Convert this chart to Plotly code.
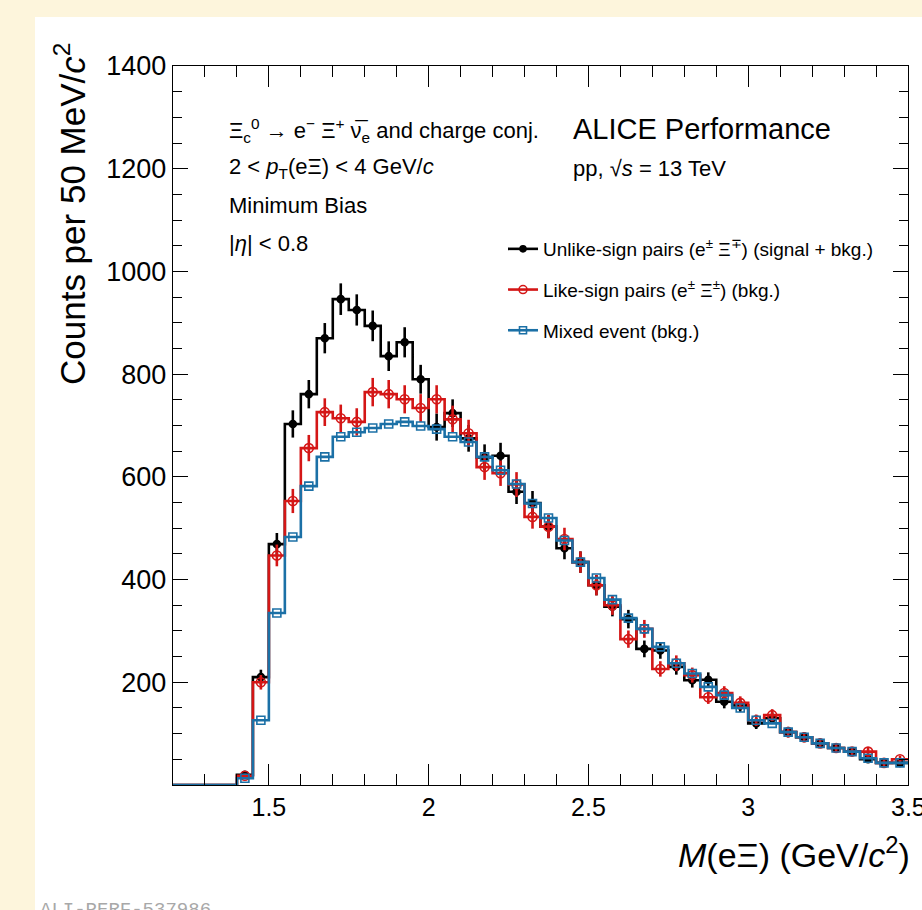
import numpy as np
import plotly.graph_objects as go

# ---------------- data ----------------
bin_edges = np.round(np.arange(1.20, 3.5001, 0.05), 2)          # 46 bins of 50 MeV/c^2
bin_centers = np.round((bin_edges[:-1] + bin_edges[1:]) / 2, 3)

unlike_sign = [0, 0, 0, 0,
               20, 210, 469, 703, 761, 870, 946, 925, 894, 835,
               862, 790, 697, 724, 675, 638, 641, 571, 549, 503,
               461, 434, 389, 347, 323, 265, 262, 230, 204, 205,
               162, 155, 120, 130, 103, 93, 81, 72, 65, 50, 43, 43]

like_sign = [0, 0, 0, 0,
             18, 200, 447, 553, 656, 726, 714, 707, 765, 761,
             751, 734, 751, 712, 685, 619, 607, 585, 522, 503,
             479, 434, 389, 350, 284, 304, 226, 237, 214, 171,
             179, 160, 126, 136, 103, 93, 81, 72, 65, 65, 43, 50]

mixed_event = [0, 0, 0, 0,
               13, 126, 335, 483, 582, 639, 678, 687, 695, 703,
               707, 699, 693, 678, 668, 639, 613, 586, 548, 520,
               476, 434, 403, 361, 325, 304, 269, 237, 217, 191,
               175, 150, 126, 120, 103, 93, 81, 72, 65, 52, 43, 43]

x_tick_vals = [1.5, 2.0, 2.5, 3.0, 3.5]
x_tick_text = ["1.5", "2", "2.5", "3", "3.5"]
y_tick_vals = [200, 400, 600, 800, 1000, 1200, 1400]

series = [
    ("Unlike-sign pairs (e<sup>±</sup> Ξ<sup>∓</sup>) (signal + bkg.)", unlike_sign,
     "#000000", "circle", 7, True),
    ("Like-sign pairs (e<sup>±</sup> Ξ<sup>±</sup>) (bkg.)", like_sign,
     "#d41616", "circle-open", 9, True),
    ("Mixed event (bkg.)", mixed_event,
     "#1b70a6", "square-open", 8, False),
]

# ---------------- figure ----------------
W, H = 922, 910
ML, MR, MT, MB = 173, 14, 66, 125
PW, PH = W - ML - MR, H - MT - MB


def px_x(p):
    return (p - ML) / PW


def px_y(p):
    return (H - MB - p) / PH


fig = go.Figure()

for i, (name, vals, col, sym, msize, err) in enumerate(series):
    vals = np.asarray(vals, dtype=float)
    step_y = np.append(vals, vals[-1])
    fig.add_trace(go.Scatter(
        x=bin_edges, y=step_y, mode="lines", line_shape="hv",
        line=dict(color=col, width=2.6), showlegend=False, hoverinfo="skip",
    ))
    mask = vals > 0
    fig.add_trace(go.Scatter(
        x=bin_centers[mask], y=vals[mask], mode="markers",
        marker=dict(symbol=sym, size=msize, color=col,
                    line=dict(color=col, width=1.6)),
        error_y=dict(type="data", array=np.sqrt(vals[mask]) if err else np.zeros(mask.sum()),
                     visible=err, color=col, thickness=2.6, width=0),
        showlegend=False,
    ))
    # legend entry
    fig.add_trace(go.Scatter(
        x=[None], y=[None], mode="lines+markers", name=name,
        legendgroup=f"g{i}",
        line=dict(color=col, width=2.6),
        marker=dict(symbol=sym, size=msize - 1, color=col, line=dict(color=col, width=1.6)),
    ))

font_main = "Liberation Sans, Arial, Helvetica, sans-serif"

annotations = []
left_txt = [
    (130, "Ξ<sub>c</sub><sup>0</sup> → e<sup>−</sup> Ξ<sup>+</sup> ν̅<sub>e</sub> and charge conj."),
    (168, "2 < <i>p</i><sub>T</sub>(eΞ) < 4 GeV/<i>c</i>"),
    (206, "Minimum Bias"),
    (244, "|<i>η</i>| < 0.8"),
]
for yy, t in left_txt:
    annotations.append(dict(x=px_x(227), y=px_y(yy), xref="paper", yref="paper",
                            xanchor="left", yanchor="middle", text=t, showarrow=False,
                            font=dict(size=22, color="black", family=font_main)))
annotations.append(dict(x=px_x(571), y=px_y(129), xref="paper", yref="paper",
                        xanchor="left", yanchor="middle", text="ALICE Performance",
                        showarrow=False, font=dict(size=29, color="black", family=font_main)))
annotations.append(dict(x=px_x(571), y=px_y(168), xref="paper", yref="paper",
                        xanchor="left", yanchor="middle", text="pp, √<i>s</i> = 13 TeV",
                        showarrow=False, font=dict(size=22, color="black", family=font_main)))
# last x tick label (half cut by the page edge, as in the reference)
annotations.append(dict(x=x_tick_vals[-1], y=px_y(807), xref="x", yref="paper",
                        xanchor="center", yanchor="middle", text=x_tick_text[-1],
                        showarrow=False, font=dict(size=25, color="black", family=font_main)))
# axis titles
annotations.append(dict(x=px_x(912), y=px_y(852), xref="paper", yref="paper",
                        xanchor="right", yanchor="middle",
                        text="<i>M</i>(eΞ) (GeV/<i>c</i><sup>2</sup>)",
                        showarrow=False, font=dict(size=34, color="black", family=font_main)))
annotations.append(dict(x=px_x(70), y=px_y(214), xref="paper", yref="paper",
                        xanchor="center", yanchor="middle", textangle=-90,
                        text="Counts per 50 MeV/<i>c</i><sup>2</sup>",
                        showarrow=False, font=dict(size=35, color="black", family=font_main)))
annotations.append(dict(x=px_x(38), y=px_y(897), xref="paper", yref="paper",
                        xanchor="left", yanchor="top", text="ALI-PERF-537986",
                        showarrow=False,
                        font=dict(size=19, color="#a8a8a8",
                                  family="Liberation Mono, DejaVu Sans Mono, monospace")))

shapes = [dict(type="rect", xref="paper", yref="paper", layer="below",
               x0=px_x(35), x1=px_x(930), y0=px_y(920), y1=px_y(17),
               fillcolor="white", line=dict(width=0))]

axis_common = dict(showline=True, linecolor="black", linewidth=1.4, mirror="allticks",
                   ticks="inside", tickcolor="black", tickwidth=1.4, showgrid=False,
                   zeroline=False)

fig.update_layout(
    width=W, height=H,
    margin=dict(l=ML, r=MR, t=MT, b=MB, pad=0),
    paper_bgcolor="#fdf5dc", plot_bgcolor="white",
    showlegend=True,
    legend=dict(x=px_x(503), y=px_y(230), xanchor="left", yanchor="top",
                bgcolor="rgba(0,0,0,0)", tracegroupgap=13,
                font=dict(size=19, color="black", family=font_main), itemwidth=30),
    xaxis=dict(range=[1.2, 3.5], tickvals=x_tick_vals[:-1], ticktext=x_tick_text[:-1],
               ticklen=21, tickfont=dict(size=25, color="black", family=font_main),
               minor=dict(dtick=0.1, tick0=1.2, ticks="inside", ticklen=11,
                          tickcolor="black", tickwidth=1.4),
               **axis_common),
    yaxis=dict(range=[0, 1400], tickvals=y_tick_vals, ticklen=15,
               tickfont=dict(size=27, color="black", family=font_main),
               minor=dict(dtick=50, tick0=0, ticks="inside", ticklen=9,
                          tickcolor="black", tickwidth=1.4),
               **axis_common),
    annotations=annotations, shapes=shapes,
)

fig.write_html(
    "out.html",
    config={"displayModeBar": False},
    post_script="document.body.style.margin='0px';"
                "document.body.style.background='#fdf5dc';"
                "document.body.style.overflow='hidden';",
)
